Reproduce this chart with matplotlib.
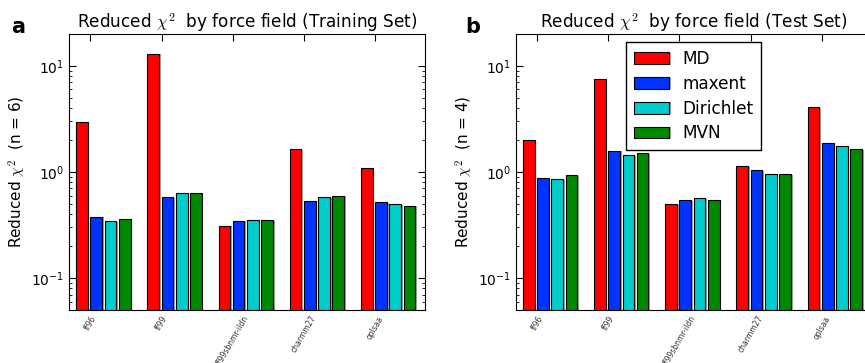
import numpy as np
import matplotlib
matplotlib.use('Agg')
import matplotlib.pyplot as plt
import matplotlib.patheffects as pe

fields = ['ff96', 'ff99', 'ff99sbnmr-ildn', 'charmm27', 'oplsaa']
methods = ['MD', 'maxent', 'Dirichlet', 'MVN']
colors = ['#ff0000', '#0033ff', '#00cccc', '#008800']

train_md = [2.93, 13.0, 0.313, 1.64, 1.08]
train_maxent = [0.378, 0.576, 0.346, 0.535, 0.517]
train_dirichlet = [0.343, 0.63, 0.35, 0.576, 0.494]
train_mvn = [0.357, 0.63, 0.35, 0.597, 0.483]

test_md = [2.0, 7.6, 0.495, 1.13, 4.06]
test_maxent = [0.872, 1.58, 0.543, 1.04, 1.87]
test_dirichlet = [0.853, 1.44, 0.564, 0.964, 1.77]
test_mvn = [0.93, 1.5, 0.543, 0.95, 1.64]

train = [train_md, train_maxent, train_dirichlet, train_mvn]
test = [test_md, test_maxent, test_dirichlet, test_mvn]

fig = plt.figure(figsize=(8.65, 3.63), dpi=100)
ax1 = fig.add_axes([0.0798, 0.146, 0.4116, 0.7603])
ax2 = fig.add_axes([0.5962, 0.146, 0.4116, 0.7603])

ind = np.arange(len(fields))
width = 0.2
shadow = [pe.SimplePatchShadow(offset=(1.2, -0.3), shadow_rgbFace='0.55', alpha=0.8), pe.Normal()]

def panel(ax, data, title, n, letter, xl, ylx):
    for k, vals in enumerate(data):
        ax.bar(ind + k * width, vals, width * 0.82, align='edge', color=colors[k],
               edgecolor='black', linewidth=0.8, label=methods[k], path_effects=shadow)
    ax.set_yscale('log')
    ax.set_ylim(0.05, 20)
    ax.set_xlim(-0.1, 4.9)
    ax.set_xticks(ind + width)
    ax.set_xticklabels(fields, rotation=60, ha='center', color='#333333')
    ax.set_title(r'Reduced $\chi^2$  by force field (%s)' % title, fontsize=12.2, pad=4,
                 math_fontfamily='cm')
    ax.set_ylabel(r'Reduced $\chi^2$  (n = %d)' % n, fontsize=11, math_fontfamily='cm')
    ax.yaxis.set_label_coords(ylx, 0.5)
    ax.tick_params(which='both', direction='in', top=True, right=True)
    ax.tick_params(axis='y', labelsize=10)
    ax.tick_params(axis='x', labelsize=5.5, pad=3)
    ax.tick_params(which='major', length=5)
    ax.tick_params(which='minor', length=2.5)
    fig.text(xl, 0.925, letter, fontsize=15, fontweight='bold', ha='left', va='center')

panel(ax1, train, 'Training Set', 6, 'a', 0.013, -0.115)
panel(ax2, test, 'Test Set', 4, 'b', 0.538, -0.114)

ax2.legend(loc='upper center', fontsize=12.2, fancybox=False, edgecolor='black',
           framealpha=1, handlelength=2.1, handleheight=0.7, borderpad=0.45,
           labelspacing=0.4, bbox_to_anchor=(0.5, 1.0))

fig.savefig('out.png', dpi=100, facecolor='white')
